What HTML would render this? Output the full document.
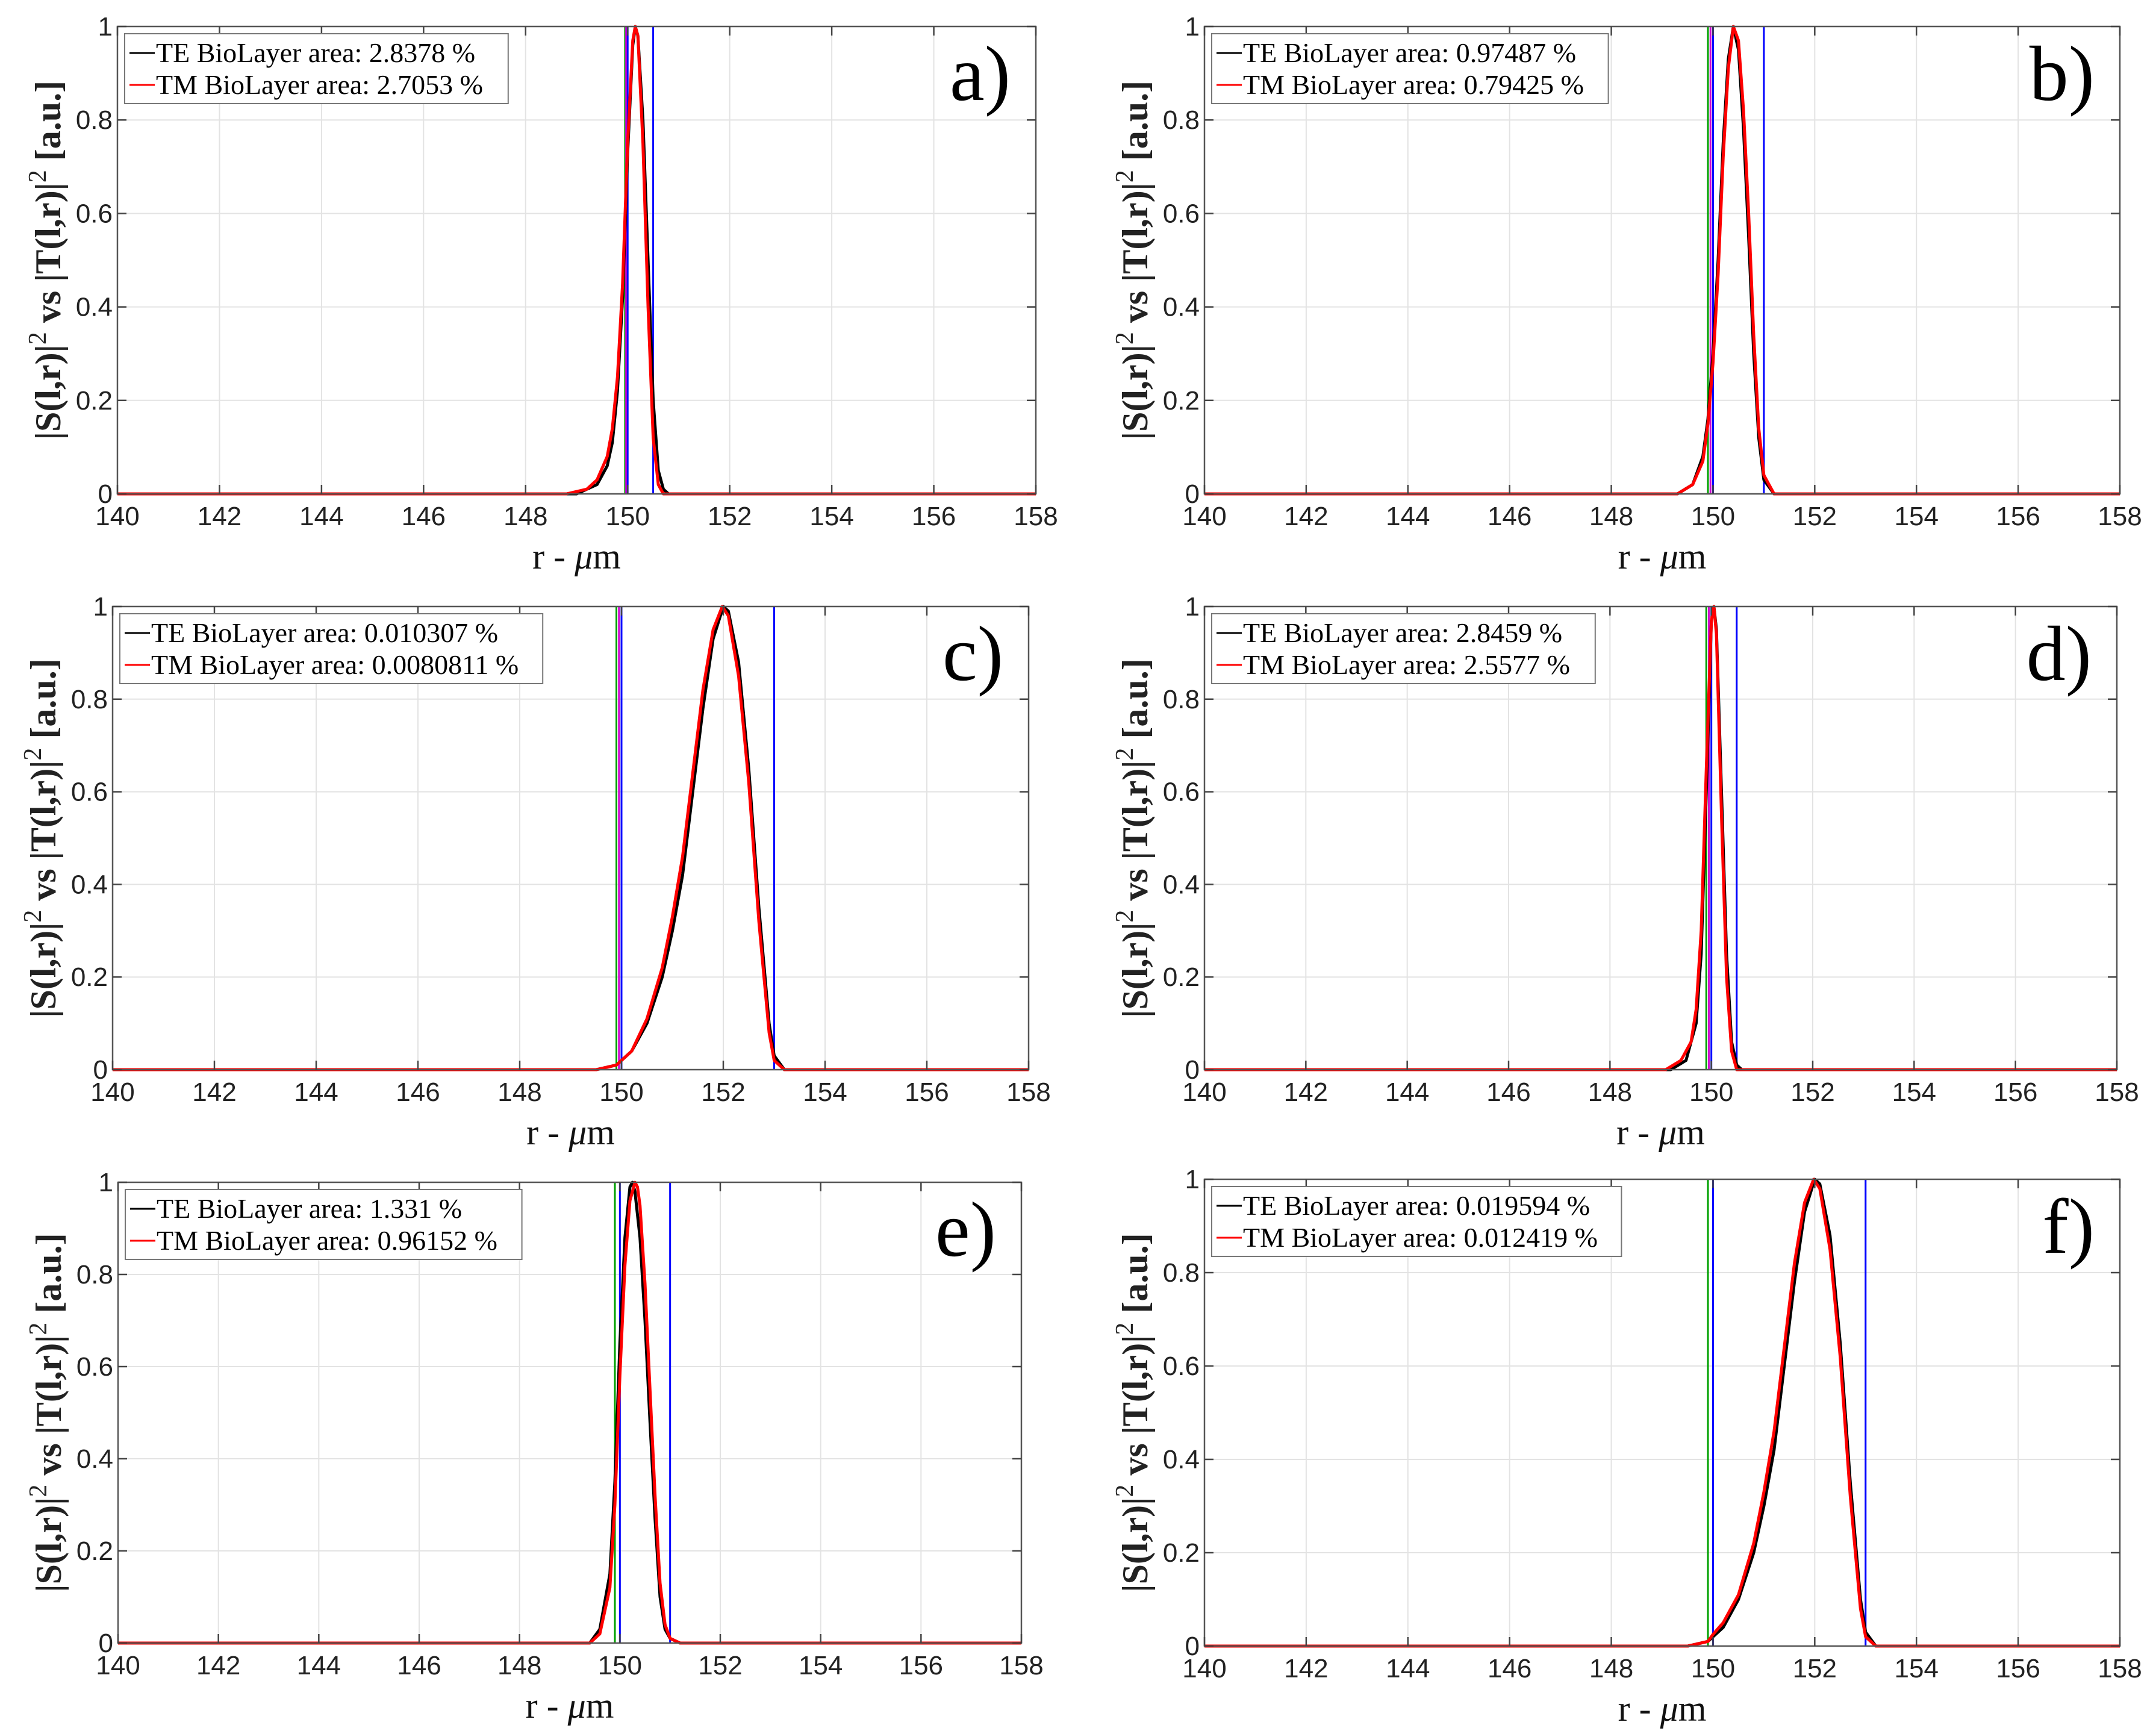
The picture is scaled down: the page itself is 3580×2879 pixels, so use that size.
<!DOCTYPE html>
<html><head><meta charset="utf-8">
<style>
html,body{margin:0;padding:0;background:#fff;}
svg{display:block;}
</style></head>
<body>
<svg id="fig" xmlns="http://www.w3.org/2000/svg" width="3580" height="2879" viewBox="0 0 3580 2879"></svg>
<script>
// ---- data ----
const xTicks = [140,142,144,146,148,150,152,154,156,158];
const yTicks = [0,0.2,0.4,0.6,0.8,1];
const yTickLabels = ["0","0.2","0.4","0.6","0.8","1"];
const panelLetters = ["a)","b)","c)","d)","e)","f)"];
const teLegend = ["TE BioLayer area: 2.8378 %","TE BioLayer area: 0.97487 %","TE BioLayer area: 0.010307 %","TE BioLayer area: 2.8459 %","TE BioLayer area: 1.331 %","TE BioLayer area: 0.019594 %"];
const tmLegend = ["TM BioLayer area: 2.7053 %","TM BioLayer area: 0.79425 %","TM BioLayer area: 0.0080811 %","TM BioLayer area: 2.5577 %","TM BioLayer area: 0.96152 %","TM BioLayer area: 0.012419 %"];

const aTEx=[140,149.0,149.4,149.6,149.7,149.8,149.9,150.0,150.1,150.15,150.2,150.3,150.4,150.5,150.6,150.7,150.8,158];
const aTEy=[0,0,0.02,0.06,0.11,0.22,0.42,0.73,0.96,1,0.98,0.8,0.5,0.2,0.05,0.01,0,0];
const aTMx=[140,148.8,149.2,149.4,149.6,149.7,149.8,149.9,150.0,150.1,150.15,150.2,150.3,150.4,150.5,150.6,150.7,158];
const aTMy=[0,0,0.01,0.03,0.08,0.14,0.25,0.45,0.75,0.97,1,0.98,0.75,0.4,0.12,0.02,0,0];

const bTEx=[140,149.3,149.6,149.8,149.9,150.0,150.1,150.2,150.3,150.4,150.5,150.6,150.7,150.8,150.9,151.0,151.2,158];
const bTEy=[0,0,0.02,0.08,0.16,0.3,0.5,0.75,0.93,1,0.95,0.78,0.55,0.3,0.12,0.03,0,0];
const bTMx=[140,149.3,149.6,149.8,149.9,150.0,150.1,150.2,150.3,150.4,150.5,150.6,150.7,150.8,150.9,151.0,151.2,158];
const bTMy=[0,0,0.02,0.07,0.15,0.28,0.47,0.72,0.91,1,0.97,0.82,0.6,0.34,0.14,0.04,0,0];

const cTEx=[140,149.5,149.9,150.2,150.5,150.8,151.0,151.2,151.4,151.6,151.8,152.0,152.1,152.3,152.5,152.7,152.9,153.0,153.2,158];
const cTEy=[0,0,0.01,0.04,0.1,0.2,0.3,0.42,0.6,0.78,0.93,1,0.99,0.88,0.65,0.35,0.1,0.03,0,0];
const cTMx=[140,149.5,149.9,150.2,150.5,150.8,151.0,151.2,151.4,151.6,151.8,151.98,152.1,152.3,152.5,152.7,152.9,153.0,153.2,158];
const cTMy=[0,0,0.01,0.04,0.11,0.22,0.33,0.46,0.64,0.82,0.95,1,0.98,0.85,0.62,0.32,0.08,0.02,0,0];

const dTEx=[140,149.2,149.5,149.7,149.8,149.9,150.0,150.05,150.1,150.2,150.3,150.4,150.5,150.6,158];
const dTEy=[0,0,0.02,0.1,0.25,0.6,0.97,1,0.95,0.6,0.25,0.06,0.01,0,0];
const dTMx=[140,149.1,149.4,149.6,149.7,149.8,149.9,150.0,150.05,150.1,150.2,150.3,150.4,150.5,158];
const dTMy=[0,0,0.02,0.06,0.13,0.3,0.65,0.97,1,0.94,0.55,0.2,0.04,0,0];

const eTEx=[140,149.4,149.6,149.8,149.9,150.0,150.1,150.2,150.25,150.3,150.4,150.5,150.6,150.7,150.8,150.9,151.0,151.2,158];
const eTEy=[0,0,0.03,0.15,0.35,0.65,0.88,0.99,1,0.98,0.88,0.7,0.48,0.27,0.1,0.03,0.01,0,0];
const eTMx=[140,149.4,149.6,149.8,149.9,150.0,150.1,150.2,150.3,150.35,150.4,150.5,150.6,150.7,150.8,150.9,151.0,151.2,158];
const eTMy=[0,0,0.02,0.12,0.3,0.58,0.82,0.96,1,0.99,0.95,0.78,0.55,0.32,0.13,0.04,0.01,0,0];

const fTEx=[140,149.5,149.9,150.0,150.2,150.5,150.8,151.0,151.2,151.4,151.6,151.8,152.0,152.1,152.3,152.5,152.7,152.9,153.0,153.2,158];
const fTEy=[0,0,0.01,0.02,0.04,0.1,0.2,0.3,0.42,0.6,0.78,0.93,1,0.99,0.88,0.65,0.35,0.1,0.03,0,0];
const fTMx=[140,149.5,149.9,150.0,150.2,150.5,150.8,151.0,151.2,151.4,151.6,151.8,151.98,152.1,152.3,152.5,152.7,152.9,153.0,153.2,158];
const fTMy=[0,0,0.01,0.025,0.05,0.11,0.22,0.33,0.46,0.64,0.82,0.95,1,0.98,0.85,0.62,0.32,0.08,0.02,0,0];

const vGreen=[149.95,149.9,149.9,149.9,149.9,149.9];
const vMagenta=[149.97,149.95,149.95,149.95,null,null];
const vBlueA=[150.0,150.0,150.0,150.0,150.0,150.0];
const vBlueB=[150.5,151.0,153.0,150.5,151.0,153.0];

const teX=[aTEx,bTEx,cTEx,dTEx,eTEx,fTEx], teY=[aTEy,bTEy,cTEy,dTEy,eTEy,fTEy];
const tmX=[aTMx,bTMx,cTMx,dTMx,eTMx,fTMx], tmY=[aTMy,bTMy,cTMy,dTMy,eTMy,fTMy];

// ---- layout ----
const boxes=[
 {L:195,R:1720,T:44,B:820},
 {L:2000,R:3520,T:44,B:820},
 {L:187,R:1708,T:1007,B:1776},
 {L:2000,R:3515,T:1007,B:1776},
 {L:196,R:1696,T:1963,B:2728},
 {L:2000,R:3520,T:1958,B:2733}
];
const NS="http://www.w3.org/2000/svg";
const svg=document.getElementById('fig');
function mk(tag,attrs,parent){const e=document.createElementNS(NS,tag);for(const k in attrs)e.setAttribute(k,attrs[k]);(parent||svg).appendChild(e);return e;}

boxes.forEach((b,i)=>{
 const g=mk('g',{});
 
 
 const sx=v=>b.L+(v-140)/18*(b.R-b.L);
 const sy=v=>b.B-v*(b.B-b.T);
 xTicks.forEach(t=>{const l=mk('line',{x1:sx(t),x2:sx(t),y1:b.T,y2:b.B,stroke:'#e3e3e3','stroke-width':2},g);
  });
 yTicks.forEach(t=>{const l=mk('line',{x1:b.L,x2:b.R,y1:sy(t),y2:sy(t),stroke:'#e3e3e3','stroke-width':2},g);
  });
 const vl=(v,c,n)=>{if(v==null)return;const l=mk('line',{x1:sx(v),x2:sx(v),y1:b.T,y2:b.B,stroke:c,'stroke-width':3},g);
  };
 vl(vGreen[i],'#00a000','green-marker-line');
 vl(vMagenta[i],'#d000d0','magenta-marker-line');
 vl(vBlueA[i],'#0000ff','blue-marker-line-left');
 vl(vBlueB[i],'#0000ff','blue-marker-line-right');
 const pts=(xs,ys)=>xs.map((x,k)=>sx(x).toFixed(1)+','+sy(ys[k]).toFixed(1)).join(' ');
 const te=mk('polyline',{points:pts(teX[i],teY[i]),fill:'none',stroke:'#000','stroke-width':5,'stroke-linejoin':'round'},g);
 
 const tm=mk('polyline',{points:pts(tmX[i],tmY[i]),fill:'none',stroke:'#ff0000','stroke-width':5,'stroke-linejoin':'round'},g);
 
 const ax=mk('rect',{x:b.L,y:b.T,width:b.R-b.L,height:b.B-b.T,fill:'none',stroke:'#555','stroke-width':2.5},g);
 
 const tl=15;
 xTicks.forEach(t=>{
  mk('line',{x1:sx(t),x2:sx(t),y1:b.B,y2:b.B-tl,stroke:'#444','stroke-width':2.5},g);
  mk('line',{x1:sx(t),x2:sx(t),y1:b.T,y2:b.T+tl,stroke:'#444','stroke-width':2.5},g);
  const tx=mk('text',{x:sx(t),y:b.B+52,'text-anchor':'middle','font-family':'Liberation Sans, sans-serif','font-size':44,fill:'#222'},g);
  tx.textContent=t;
  
 });
 yTicks.forEach((t,k)=>{
  mk('line',{x1:b.L,x2:b.L+tl,y1:sy(t),y2:sy(t),stroke:'#444','stroke-width':2.5},g);
  mk('line',{x1:b.R,x2:b.R-tl,y1:sy(t),y2:sy(t),stroke:'#444','stroke-width':2.5},g);
  const tx=mk('text',{x:b.L-8,y:sy(t)+15,'text-anchor':'end','font-family':'Liberation Sans, sans-serif','font-size':44,fill:'#222'},g);
  tx.textContent=yTickLabels[k];
  
 });
 const xl=mk('text',{x:(b.L+b.R)/2,y:b.B+124,'text-anchor':'middle','font-family':'Liberation Serif, serif','font-size':60,fill:'#111'},g);
 xl.innerHTML='r - <tspan font-style="italic">μ</tspan>m';
 
 const cy=(b.T+b.B)/2, cx=b.L-95;
 const yl=mk('text',{x:cx,y:cy,'text-anchor':'middle',transform:`rotate(-90 ${cx} ${cy})`,'font-family':'Liberation Serif, serif','font-size':60,'font-weight':'bold',fill:'#222'},g);
 yl.innerHTML='|S(l,r)|<tspan dy="-24" font-size="42" font-weight="normal">2</tspan><tspan dy="24"> vs |T(l,r)|</tspan><tspan dy="-24" font-size="42" font-weight="normal">2</tspan><tspan dy="24"> [a.u.]</tspan>';
 
 const lg=mk('g',{},g);
 
 const lx=b.L+12, ly=b.T+12;
 const w1=teLegend[i].length, w2=tmLegend[i].length;
 const lw=70+Math.max(w1,w2)*21.8;
 mk('rect',{x:lx,y:ly,width:lw,height:116,fill:'#fff',stroke:'#777','stroke-width':2},lg);
 mk('line',{x1:lx+8,x2:lx+50,y1:ly+32,y2:ly+32,stroke:'#000','stroke-width':3},lg);
 mk('line',{x1:lx+8,x2:lx+50,y1:ly+85,y2:ly+85,stroke:'#ff0000','stroke-width':3},lg);
 const t1=mk('text',{x:lx+52,y:ly+47,'font-family':'Liberation Serif, serif','font-size':46,fill:'#000'},lg);
 t1.textContent=teLegend[i];
 
 const t2=mk('text',{x:lx+52,y:ly+100,'font-family':'Liberation Serif, serif','font-size':46,fill:'#000'},lg);
 t2.textContent=tmLegend[i];
 
 const pl=mk('text',{x:b.R-42,y:b.T+122,'text-anchor':'end','font-family':'Liberation Serif, serif','font-size':130,fill:'#000'},g);
 pl.textContent=panelLetters[i];
 
});
</script>
</body></html>
